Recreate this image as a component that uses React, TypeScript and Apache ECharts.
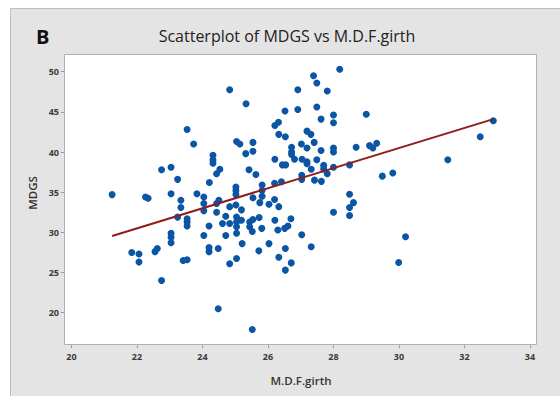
import React, { useEffect, useRef } from "react";
import * as echarts from "echarts";

const TITLE = "Scatterplot of MDGS vs M.D.F.girth";
const PANEL_LABEL = "B";
const X_NAME = "M.D.F.girth";
const Y_NAME = "MDGS";
const X_TICKS = [20, 22, 24, 26, 28, 30, 32, 34];
const Y_TICKS = [20, 25, 30, 35, 40, 45, 50];

const mdfGirth = [
  21.24, 21.84, 22.06, 22.06, 22.26, 22.34, 22.55, 22.62, 22.75, 22.75,
  23.04, 23.04, 23.04, 23.04, 23.04, 23.24, 23.24, 23.34, 23.34, 23.41,
  23.53, 23.53, 23.53, 23.53, 23.53, 23.73, 23.83, 24.04, 24.04, 24.04,
  24.04, 24.2, 24.2, 24.2, 24.21, 24.32, 24.32, 24.32, 24.43, 24.53,
  24.43, 24.43, 24.5, 24.48, 24.48, 24.71, 24.61, 24.83, 24.71, 24.83,
  24.83, 24.83, 25.02, 25.02, 25.02, 25.02, 25.04, 25.04, 25.04, 25.04,
  25.04, 25.04, 25.14, 25.19, 25.19, 25.21, 25.32, 25.33, 25.42, 25.63,
  25.44, 25.54, 25.44, 25.52, 25.54, 25.54, 25.54, 25.52, 25.73, 25.72,
  25.75, 25.81, 25.82, 25.82, 25.82, 26.03, 26.03, 26.2, 26.2, 26.21,
  26.32, 26.21, 26.21, 26.33, 26.33, 26.33, 26.3, 26.41, 26.44, 26.54,
  26.51, 26.53, 26.52, 26.53, 26.53, 26.61, 26.7, 26.71, 26.72, 26.72,
  26.72, 26.81, 26.91, 26.91, 27.02, 27.04, 27.03, 27.03, 27.03, 27.19,
  27.19, 27.19, 27.19, 27.31, 27.32, 27.32, 27.39, 27.49, 27.41, 27.42,
  27.49, 27.49, 27.62, 27.62, 27.63, 27.7, 27.7, 27.81, 27.81, 28.0,
  28.0, 28.0, 28.0, 28.0, 28.0, 28.19, 28.49, 28.49, 28.61, 28.49,
  28.49, 28.69, 29.0, 29.1, 29.2, 29.32, 29.49, 29.81, 29.99, 30.2,
  31.49, 32.48, 32.88,
];

const mdgs = [
  34.7, 27.5, 27.3, 26.3, 34.4, 34.25, 27.6, 28.0, 37.8, 24.0,
  38.1, 34.8, 29.9, 29.4, 28.7, 36.6, 31.9, 34.0, 33.1, 26.5,
  26.6, 42.8, 31.7, 31.3, 30.8, 41.0, 34.8, 34.4, 33.6, 32.7,
  29.6, 30.8, 28.1, 27.6, 36.2, 39.6, 39.0, 38.6, 37.3, 37.85,
  33.6, 32.5, 34.0, 28.0, 20.5, 32.0, 31.1, 31.1, 29.6, 33.2,
  26.1, 47.75, 35.65, 35.2, 34.7, 33.4, 31.9, 31.3, 30.7, 29.9,
  26.75, 41.3, 41.0, 32.8, 31.5, 28.6, 39.8, 46.0, 37.8, 37.2,
  31.3, 31.6, 30.7, 30.1, 41.2, 40.1, 34.3, 17.9, 31.85, 27.7,
  33.7, 30.5, 35.9, 35.2, 34.5, 33.5, 28.6, 36.1, 34.1, 43.3,
  43.7, 39.1, 31.5, 42.2, 33.2, 26.9, 30.3, 36.3, 38.4, 38.4,
  30.5, 41.9, 45.1, 28.0, 25.3, 30.8, 31.7, 26.2, 40.6, 40.0,
  39.7, 39.1, 47.75, 45.3, 41.0, 39.1, 37.1, 36.6, 29.7, 42.6,
  40.5, 38.8, 38.55, 42.2, 37.85, 28.2, 49.5, 48.6, 41.2, 36.5,
  45.6, 39.05, 44.1, 40.2, 36.35, 38.35, 37.9, 47.6, 37.3, 44.6,
  43.65, 40.5, 40.0, 38.1, 32.5, 50.3, 38.4, 34.75, 33.7, 33.1,
  32.1, 40.6, 44.7, 40.8, 40.5, 41.1, 37.0, 37.4, 26.25, 29.45,
  39.05, 41.9, 43.9,
];

// Fitted line: MDGS = FIT_INTERCEPT + FIT_SLOPE * girth
const FIT_INTERCEPT = 3.0;
const FIT_SLOPE = 1.25;

export default function App() {
  const ref = useRef<HTMLDivElement>(null);

  useEffect(() => {
    if (!ref.current) return;
    const chart = echarts.init(ref.current, null, { renderer: "svg" });

    const points = mdfGirth.map((x, i) => [x, mdgs[i]]);
    const xMin = Math.min(...mdfGirth);
    const xMax = Math.max(...mdfGirth);
    const fitLine = [
      [xMin, FIT_INTERCEPT + FIT_SLOPE * xMin],
      [xMax, FIT_INTERCEPT + FIT_SLOPE * xMax],
    ];

    const labelStyle = {
      color: "#3a3a3a",
      fontSize: 9,
      fontWeight: "bold" as const,
      fontFamily: "Open Sans",
    };

    chart.setOption({
      animation: false,
      backgroundColor: "#ffffff",
      graphic: [
        {
          type: "rect",
          z: -20,
          shape: { x: 10.5, y: 8.5, width: 560, height: 400 },
          style: { fill: "#e4e4e4", stroke: "#bdbdbd", lineWidth: 1 },
        },
        {
          type: "rect",
          z: -10,
          shape: { x: 64.5, y: 54.5, width: 472, height: 290 },
          style: { fill: "#ffffff", stroke: "#b0b0b0", lineWidth: 1 },
        },
        {
          type: "text",
          z: 50,
          x: 36,
          y: 36,
          style: {
            text: PANEL_LABEL,
            fill: "#111",
            fontSize: 20,
            fontWeight: "bold",
            fontFamily: "Open Sans",
            verticalAlign: "middle",
          },
        },
        {
          type: "text",
          z: 50,
          x: 287,
          y: 36,
          style: {
            text: TITLE,
            fill: "#222",
            fontSize: 16,
            fontFamily: "Open Sans",
            align: "center",
            verticalAlign: "middle",
          },
        },
        {
          type: "text",
          z: 50,
          x: 301,
          y: 380,
          style: {
            text: X_NAME,
            fill: "#333",
            fontSize: 11.5,
            fontWeight: 600,
            fontFamily: "Open Sans",
            align: "center",
            verticalAlign: "middle",
          },
        },
        {
          type: "text",
          z: 50,
          x: 32,
          y: 193,
          rotation: Math.PI / 2,
          style: {
            text: Y_NAME,
            fill: "#333",
            fontSize: 11.5,
            fontWeight: 600,
            fontFamily: "Open Sans",
            align: "center",
            verticalAlign: "middle",
          },
        },
      ],
      grid: {
        left: 71.5,
        right: 30,
        top: 71.7,
        bottom: 83.3,
        containLabel: false,
      },
      xAxis: {
        type: "value",
        min: X_TICKS[0],
        max: X_TICKS[X_TICKS.length - 1],
        interval: X_TICKS[1] - X_TICKS[0],
        offset: 32.5,
        axisLine: { show: false },
        axisTick: { show: true, length: 3, lineStyle: { color: "#9a9a9a" } },
        splitLine: { show: false },
        axisLabel: { ...labelStyle, margin: 7 },
      },
      yAxis: {
        type: "value",
        min: Y_TICKS[0],
        max: Y_TICKS[Y_TICKS.length - 1],
        interval: Y_TICKS[1] - Y_TICKS[0],
        offset: 7.5,
        axisLine: { show: false },
        axisTick: { show: true, length: 3, lineStyle: { color: "#9a9a9a" } },
        splitLine: { show: false },
        axisLabel: { ...labelStyle, margin: 5 },
      },
      series: [
        {
          type: "scatter",
          data: points,
          symbol: "circle",
          symbolSize: 7,
          clip: false,
          itemStyle: { color: "#0b56a4", opacity: 1 },
          z: 3,
        },
        {
          type: "line",
          data: fitLine,
          showSymbol: false,
          symbol: "none",
          clip: false,
          lineStyle: { color: "#8e1d1d", width: 2 },
          z: 4,
        },
      ],
    });

    return () => chart.dispose();
  }, []);

  return (
    <div
      ref={ref}
      style={{ position: "fixed", left: 0, top: 0, width: 560, height: 396 }}
    />
  );
}
